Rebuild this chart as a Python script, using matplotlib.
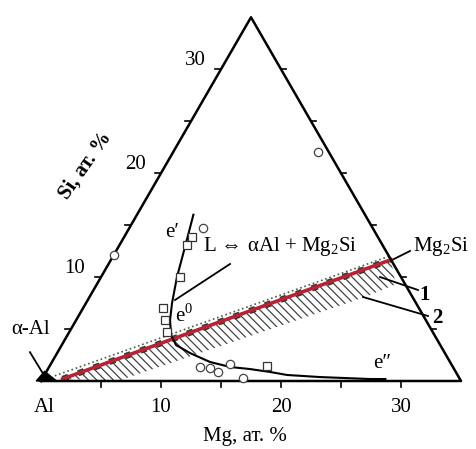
import numpy as np
from matplotlib import pyplot as plt

plt.rcParams['font.family'] = ['Liberation Serif', 'DejaVu Serif']
plt.rcParams['mathtext.fontset'] = 'custom'
plt.rcParams['mathtext.rm'] = 'Liberation Serif'
plt.rcParams['hatch.linewidth'] = 0.9

# composition triangle: Al corner, side = 35 at.%
side = 35
tick_vals = [5, 10, 15, 20, 25, 30]
tick_labels = ['10', '20', '30']

# Al-Mg2Si section (Mg, Si at.%)
sec_mg = [1.7, 23.33]
sec_si = [0.2, 11.67]
# dotted boundary above the section
dot_mg = [0.9, 23.0]
dot_si = [0.5, 12.0]
# hatched band (Mg, Si)
band_mg = [1.7, 23.33, 24.9, 23.0, 6.4]
band_si = [0.2, 11.67, 9.3, 8.1, 0.0]

# eutectic valley e' - e0 - e''
val_mg = [4.7, 5.55, 6.33, 7.17, 7.82, 8.62, 9.52, 11.07, 13.17, 15.08, 16.84, 18.65, 20.21, 23.06, 27.32, 28.6]
val_si = [16.0, 12.9, 10.0, 7.5, 5.87, 4.43, 3.46, 2.69, 1.83, 1.35, 1.15, 0.87, 0.58, 0.38, 0.19, 0.19]

# experimental points
sq_mg = [5.65, 5.62, 6.58, 6.66, 7.40, 8.14, 18.1]
sq_si = [13.86, 13.09, 10.0, 7.02, 5.87, 4.71, 1.44]
ci_mg = [6.14, 12.58, 13.46, 14.32, 14.93, 16.69, 0.0, 12.1]
ci_si = [14.72, 1.35, 1.25, 0.87, 1.64, 0.29, 12.1, 22.0]


def tern(mg, si):
    mg = np.asarray(mg, dtype=float)
    si = np.asarray(si, dtype=float)
    return mg + si / 2, si * np.sqrt(3) / 2


def px(x, y):
    # picture pixel -> axes units
    return (x - 41) / 12, (381 - y) / 12


fig = plt.figure(figsize=(4.76, 4.49), dpi=100)
ax = fig.add_axes([0, 0, 1, 1])
ax.set_xlim(-41 / 12, 435 / 12)
ax.set_ylim(-68 / 12, 381 / 12)
ax.set_aspect('equal')
ax.axis('off')

# hatched band
bx, by = tern(band_mg, band_si)
ax.fill(bx, by, facecolor='none', edgecolor='#444444', hatch='\\\\\\\\', lw=0)

# triangle
tx, ty = tern([0, side, 0, 0], [0, 0, side, 0])
ax.plot(tx, ty, color='black', lw=1.8, zorder=5)

# ticks
for v in tick_vals:
    x, y = tern(v, 0)
    ax.plot([x, x], [y, y - 0.5], color='black', lw=1.2)
    x, y = tern(0, v)
    ax.plot([x, x - 0.5], [y, y], color='black', lw=1.2)
    x, y = tern(side - v, v)
    ax.plot([x, x + 0.4], [y, y], color='black', lw=1.2)

for v, lab in zip([10, 20, 30], tick_labels):
    x, y = tern(v, 0)
    ax.text(x, y - 2.25, lab, ha='center', va='center', fontsize=15)
    x, y = tern(0, v)
    ax.text(x - 1.3, y + 0.7, lab, ha='right', va='center', fontsize=15)

ax.text(0.3, -2.25, 'Al', ha='center', va='center', fontsize=15)
ax.text(17.0, -4.6, 'Mg, ат. %', ha='center', va='center', fontsize=15)
ax.text(3.7, 18.0, 'Si, ат. %', ha='center', va='center', fontsize=15,
        rotation=55, fontweight='bold')

# section line with dotted edges
sx, sy = tern(sec_mg, sec_si)
ax.plot(sx, sy, color='#2f3a2f', lw=4.5, ls=':', zorder=3)
ax.plot(sx, sy, color='#b82234', lw=2.6, zorder=4)
dx, dy = tern(dot_mg, dot_si)
ax.plot(dx, dy, color='#4d5a45', lw=1.2, ls=':', zorder=3)

# valley
vx, vy = tern(val_mg, val_si)
ax.plot(vx, vy, color='black', lw=1.5, zorder=4)

# points
qx, qy = tern(sq_mg, sq_si)
ax.plot(qx, qy, 's', ms=6, mfc='white', mec='#333333', mew=0.9, zorder=6)
cx, cy = tern(ci_mg, ci_si)
ax.plot(cx, cy, 'o', ms=6, mfc='white', mec='#444444', mew=0.9, zorder=6)

# alpha-Al corner
ax.fill([-0.4, 1.3, 0.3], [0, 0, 0.8], color='black', zorder=6)
ax.plot([-0.92, 0.3], [2.4, 0.4], color='black', lw=1.3)
ax.text(-0.9, 4.25, 'α-Al', ha='center', va='center', fontsize=15)

# labels
ax.text(10.9, 12.4, 'e′', ha='center', va='center', fontsize=15)
ax.text(11.9, 5.5, r'e$^{\rm 0}$', ha='center', va='center', fontsize=15)
ax.text(28.4, 1.45, 'e″', ha='center', va='center', fontsize=15)

ax.plot(*zip(px(230, 264), px(175, 300)), color='black', lw=1.3)
ax.text(13.5, 11.2, r'L ⇔ αAl + Mg$_{\rm 2}$Si', ha='left',
        va='center', fontsize=15)

ax.plot(*zip(px(388, 262), px(410, 251)), color='black', lw=1.3)
ax.text(31.0, 11.2, r'Mg$_{\rm 2}$Si', ha='left', va='center', fontsize=15)

ax.plot(*zip(px(380, 277), px(418, 290)), color='black', lw=1.3)
ax.text(*px(425, 295), '1', ha='center', va='center', fontsize=15,
        fontweight='bold')
ax.plot(*zip(px(363, 297), px(428, 316)), color='black', lw=1.3)
ax.text(*px(437, 318), '2', ha='center', va='center', fontsize=15,
        fontweight='bold')

fig.savefig('out.png', dpi=100)
